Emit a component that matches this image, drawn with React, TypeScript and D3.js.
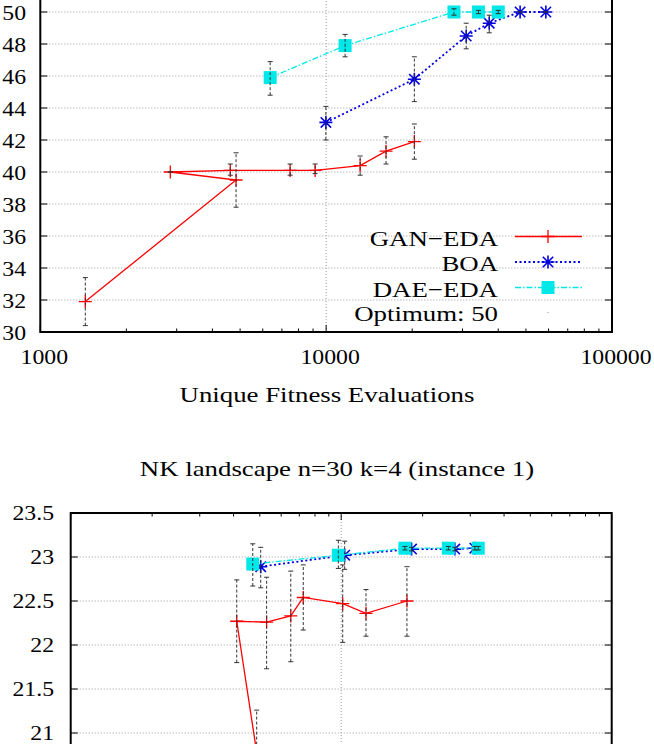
import React from "react";
import * as d3 from "d3";

const W = 654;
const H = 744;
const FONT = "'Liberation Serif', 'Times New Roman', serif";
const FS = 22;
const SX_TEXT = 1.22;
const SX_NUM = 1.08;

// ---------- Top panel data ----------
const topGanX = [1437, 4840, 2850, 4620, 7480, 9150, 13150, 16200, 20350];
const topGanY = [31.9, 39.5, 40.0, 40.1, 40.1, 40.1, 40.4, 41.3, 41.9];
const topGanLo = [30.4, 37.8, 40.0, 39.8, 39.8, 39.9, 39.8, 40.5, 40.8];
const topGanHi = [33.4, 41.2, 40.0, 40.5, 40.5, 40.5, 41.0, 42.2, 43.0];

const topBoaX = [9980, 20350, 30900, 37200, 47700, 58700];
const topBoaY = [43.1, 45.8, 48.5, 49.3, 50, 50];
const topBoaLo = [42.0, 44.4, 47.7, 48.7, 50, 50];
const topBoaHi = [44.1, 47.2, 49.3, 49.8, 50, 50];

const topDaeX = [6370, 11650, 28000, 34100, 40000];
const topDaeY = [45.9, 47.9, 50, 50, 50];
const topDaeLo = [44.8, 47.2, 49.8, 49.9, 49.9];
const topDaeHi = [46.9, 48.6, 50.2, 50.1, 50.1];

const topYTicks = [30, 32, 34, 36, 38, 40, 42, 44, 46, 48, 50, 52];

// ---------- Bottom panel data ----------
const botGanX = [1430, 4870, 4110, 5300, 6510, 7240, 10130, 12350, 17500];
const botGanY = [19.6, 20.78, 22.27, 22.26, 22.33, 22.54, 22.47, 22.36, 22.5];
const botGanLo = [19.0, 20.3, 21.8, 21.73, 21.81, 22.17, 22.03, 22.1, 22.1];
const botGanHi = [20.2, 21.26, 22.74, 22.77, 22.84, 22.91, 22.91, 22.63, 22.89];

const botBoaX = [5040, 10300, 18200, 26300, 31200];
const botBoaY = [22.89, 23.02, 23.09, 23.09, 23.1];
const botBoaLo = [22.65, 22.86, 23.07, 23.07, 23.08];
const botBoaHi = [23.11, 23.18, 23.11, 23.11, 23.12];

const botDaeX = [4710, 9760, 17200, 24900, 32100];
const botDaeY = [22.92, 23.02, 23.1, 23.1, 23.1];
const botDaeLo = [22.67, 22.87, 23.08, 23.08, 23.08];
const botDaeHi = [23.15, 23.19, 23.12, 23.12, 23.12];

const botYTicks = [20, 20.5, 21, 21.5, 22, 22.5, 23, 23.5];

const xMajorTicks = [1000, 10000, 100000];
const xTickLabels = ["1000", "10000", "100000"];
const seriesNames = ["GAN\u2212EDA", "BOA", "DAE\u2212EDA", "Optimum: 50"];
const bottomTitle = "NK landscape n=30 k=4 (instance 1)";
const xAxisTitle = "Unique Fitness Evaluations";

const RED = "#ff0000";
const BLUE = "#0000e0";
const CYAN = "#00e8e8";

type Series = { x: number[]; y: number[]; lo: number[]; hi: number[] };

function T({ x, y, anchor = "start", children, size = FS, sx = SX_TEXT }: any) {
  return (
    <text
      transform={`translate(${x},${y}) scale(${sx},1)`}
      textAnchor={anchor}
      fontFamily={FONT}
      fontSize={size}
      fill="#000"
    >
      {children}
    </text>
  );
}

function plusPath(x: number, y: number, r = 6.5) {
  return `M${x - r},${y}H${x + r}M${x},${y - r}V${y + r}`;
}
function starPath(x: number, y: number, r = 6.5, d = 5.2) {
  return `M${x - r},${y}H${x + r}M${x},${y - r}V${y + r}M${x - d},${y - d}L${x + d},${y + d}M${x - d},${y + d}L${x + d},${y - d}`;
}

function Panel({
  id,
  left,
  right,
  yDomain,
  yRange,
  yTicks,
  gan,
  boa,
  dae,
  labelX,
  labelDy,
}: any) {
  const xs = d3.scaleLog().domain([1000, 100000]).range([left, right]);
  const ys = d3.scaleLinear().domain(yDomain).range(yRange);
  const top = yRange[1];
  const bottom = yRange[0];
  const minor: number[] = [];
  for (const dec of [1000, 10000]) for (let k = 2; k <= 9; k++) minor.push(dec * k);

  const mk = (s: Series) =>
    d3
      .line<number>()
      .x((_, i) => xs(s.x[i]))
      .y((_, i) => ys(s.y[i]))(s.x);

  const errBars = (s: Series, key: string) =>
    s.x.map((xv, i) => {
      const px = xs(xv);
      const y1 = ys(s.lo[i]);
      const y2 = ys(s.hi[i]);
      return (
        <g key={key + i} stroke="#333" strokeWidth={1} strokeDasharray="3,2" fill="none">
          <line x1={px} x2={px} y1={y1} y2={y2} />
          <line x1={px - 2.5} x2={px + 2.5} y1={y1} y2={y1} strokeDasharray="none" />
          <line x1={px - 2.5} x2={px + 2.5} y1={y2} y2={y2} strokeDasharray="none" />
        </g>
      );
    });

  const visibleLabels = yTicks.filter((t: number) => ys(t) > 5 && ys(t) < H - 2);

  return (
    <g>
      <defs>
        <clipPath id={id}>
          <rect x={left} y={top} width={right - left} height={bottom - top} />
        </clipPath>
      </defs>
      {/* grid */}
      <g stroke="#9a9a9a" strokeWidth={1} strokeDasharray="1,2">
        {yTicks.map((t: number) => (
          <line key={"gy" + t} x1={left} x2={right} y1={ys(t)} y2={ys(t)} />
        ))}
        <line x1={xs(10000)} x2={xs(10000)} y1={top} y2={bottom} />
      </g>
      {/* ticks */}
      <g stroke="#000" strokeWidth={1}>
        {yTicks.map((t: number) => (
          <g key={"ty" + t}>
            <line x1={left} x2={left + 7} y1={ys(t)} y2={ys(t)} />
            <line x1={right} x2={right - 7} y1={ys(t)} y2={ys(t)} />
          </g>
        ))}
        {xMajorTicks.map((t) => (
          <g key={"tx" + t}>
            <line x1={xs(t)} x2={xs(t)} y1={bottom} y2={bottom - 7} />
            <line x1={xs(t)} x2={xs(t)} y1={top} y2={top + 7} />
          </g>
        ))}
        {minor.map((t) => (
          <g key={"tm" + t}>
            <line x1={xs(t)} x2={xs(t)} y1={bottom} y2={bottom - 3.5} />
            <line x1={xs(t)} x2={xs(t)} y1={top} y2={top + 3.5} />
          </g>
        ))}
      </g>
      {/* y labels */}
      {visibleLabels.map((t: number) => (
        <T key={"ly" + t} x={labelX} y={ys(t) + labelDy} anchor="end" sx={SX_NUM}>
          {String(t)}
        </T>
      ))}
      <g clipPath={`url(#${id})`}>
        <path d={mk(gan) || ""} fill="none" stroke={RED} strokeWidth={1.3} />
        {gan.x.map((xv: number, i: number) => (
          <path key={"gp" + i} d={plusPath(xs(xv), ys(gan.y[i]))} stroke={RED} strokeWidth={1.3} />
        ))}
        <path d={mk(boa) || ""} fill="none" stroke={BLUE} strokeWidth={1.8} strokeDasharray="2,2.5" />
        {boa.x.map((xv: number, i: number) => (
          <path key={"bp" + i} d={starPath(xs(xv), ys(boa.y[i]))} stroke={BLUE} strokeWidth={1.6} />
        ))}
        <path d={mk(dae) || ""} fill="none" stroke={CYAN} strokeWidth={1.3} strokeDasharray="6,2,1.5,2" />
        {dae.x.map((xv: number, i: number) => (
          <rect key={"dp" + i} x={xs(xv) - 6.5} y={ys(dae.y[i]) - 6.5} width={13} height={13} fill={CYAN} />
        ))}
        {errBars(gan, "eg")}
        {errBars(boa, "eb")}
        {errBars(dae, "ed")}
      </g>
      {/* frame */}
      <rect x={left} y={top} width={right - left} height={bottom - top} fill="none" stroke="#000" strokeWidth={2} />
    </g>
  );
}

export default function App() {
  const L = { textX: 498, lineX1: 515, lineX2: 582, markX: 548 };
  const legendRows = [245.5, 271, 296.5, 320.5];
  const xsTop = d3.scaleLog().domain([1000, 100000]).range([40.3, 612]);
  return (
    <svg width={W} height={H} style={{ position: "absolute", left: 0, top: 0, background: "#fff" }}>
      <rect width={W} height={H} fill="#fff" />
      <Panel
        id="clipTop"
        left={40.3}
        right={612}
        yDomain={[30, 52]}
        yRange={[332, -20]}
        yTicks={topYTicks}
        gan={{ x: topGanX, y: topGanY, lo: topGanLo, hi: topGanHi }}
        boa={{ x: topBoaX, y: topBoaY, lo: topBoaLo, hi: topBoaHi }}
        dae={{ x: topDaeX, y: topDaeY, lo: topDaeLo, hi: topDaeHi }}
        labelX={26}
        labelDy={7.5}
      />
      {/* x tick labels top panel */}
      {xMajorTicks.map((t, i) => (
        <T key={"xl" + t} x={xsTop(t) + 4} y={364} anchor="middle" sx={SX_NUM}>
          {xTickLabels[i]}
        </T>
      ))}
      <T x={327} y={402} anchor="middle">
        {xAxisTitle}
      </T>
      {/* legend */}
      <g>
        {seriesNames.map((n, i) => (
          <T key={"lg" + i} x={L.textX} y={legendRows[i]} anchor="end">
            {n}
          </T>
        ))}
        <line x1={L.lineX1} x2={L.lineX2} y1={legendRows[0] - 9} y2={legendRows[0] - 9} stroke={RED} strokeWidth={1.3} />
        <path d={plusPath(L.markX, legendRows[0] - 9)} stroke={RED} strokeWidth={1.3} />
        <line x1={L.lineX1} x2={L.lineX2} y1={legendRows[1] - 9} y2={legendRows[1] - 9} stroke={BLUE} strokeWidth={1.8} strokeDasharray="2,2.5" />
        <path d={starPath(L.markX, legendRows[1] - 9)} stroke={BLUE} strokeWidth={1.6} />
        <line x1={L.lineX1} x2={L.lineX2} y1={legendRows[2] - 9} y2={legendRows[2] - 9} stroke={CYAN} strokeWidth={1.3} strokeDasharray="6,2,1.5,2" />
        <rect x={L.markX - 6.5} y={legendRows[2] - 15.5} width={13} height={13} fill={CYAN} />
        <circle cx={L.markX} cy={legendRows[3] - 8} r={0.6} fill="#888" />
      </g>
      <T x={337} y={476} anchor="middle">
        {bottomTitle}
      </T>
      <Panel
        id="clipBot"
        left={70.7}
        right={611.7}
        yDomain={[19.5, 23.5]}
        yRange={[513 + 4 * 88, 513]}
        yTicks={botYTicks}
        gan={{ x: botGanX, y: botGanY, lo: botGanLo, hi: botGanHi }}
        boa={{ x: botBoaX, y: botBoaY, lo: botBoaLo, hi: botBoaHi }}
        dae={{ x: botDaeX, y: botDaeY, lo: botDaeLo, hi: botDaeHi }}
        labelX={54}
        labelDy={6.5}
      />
    </svg>
  );
}
